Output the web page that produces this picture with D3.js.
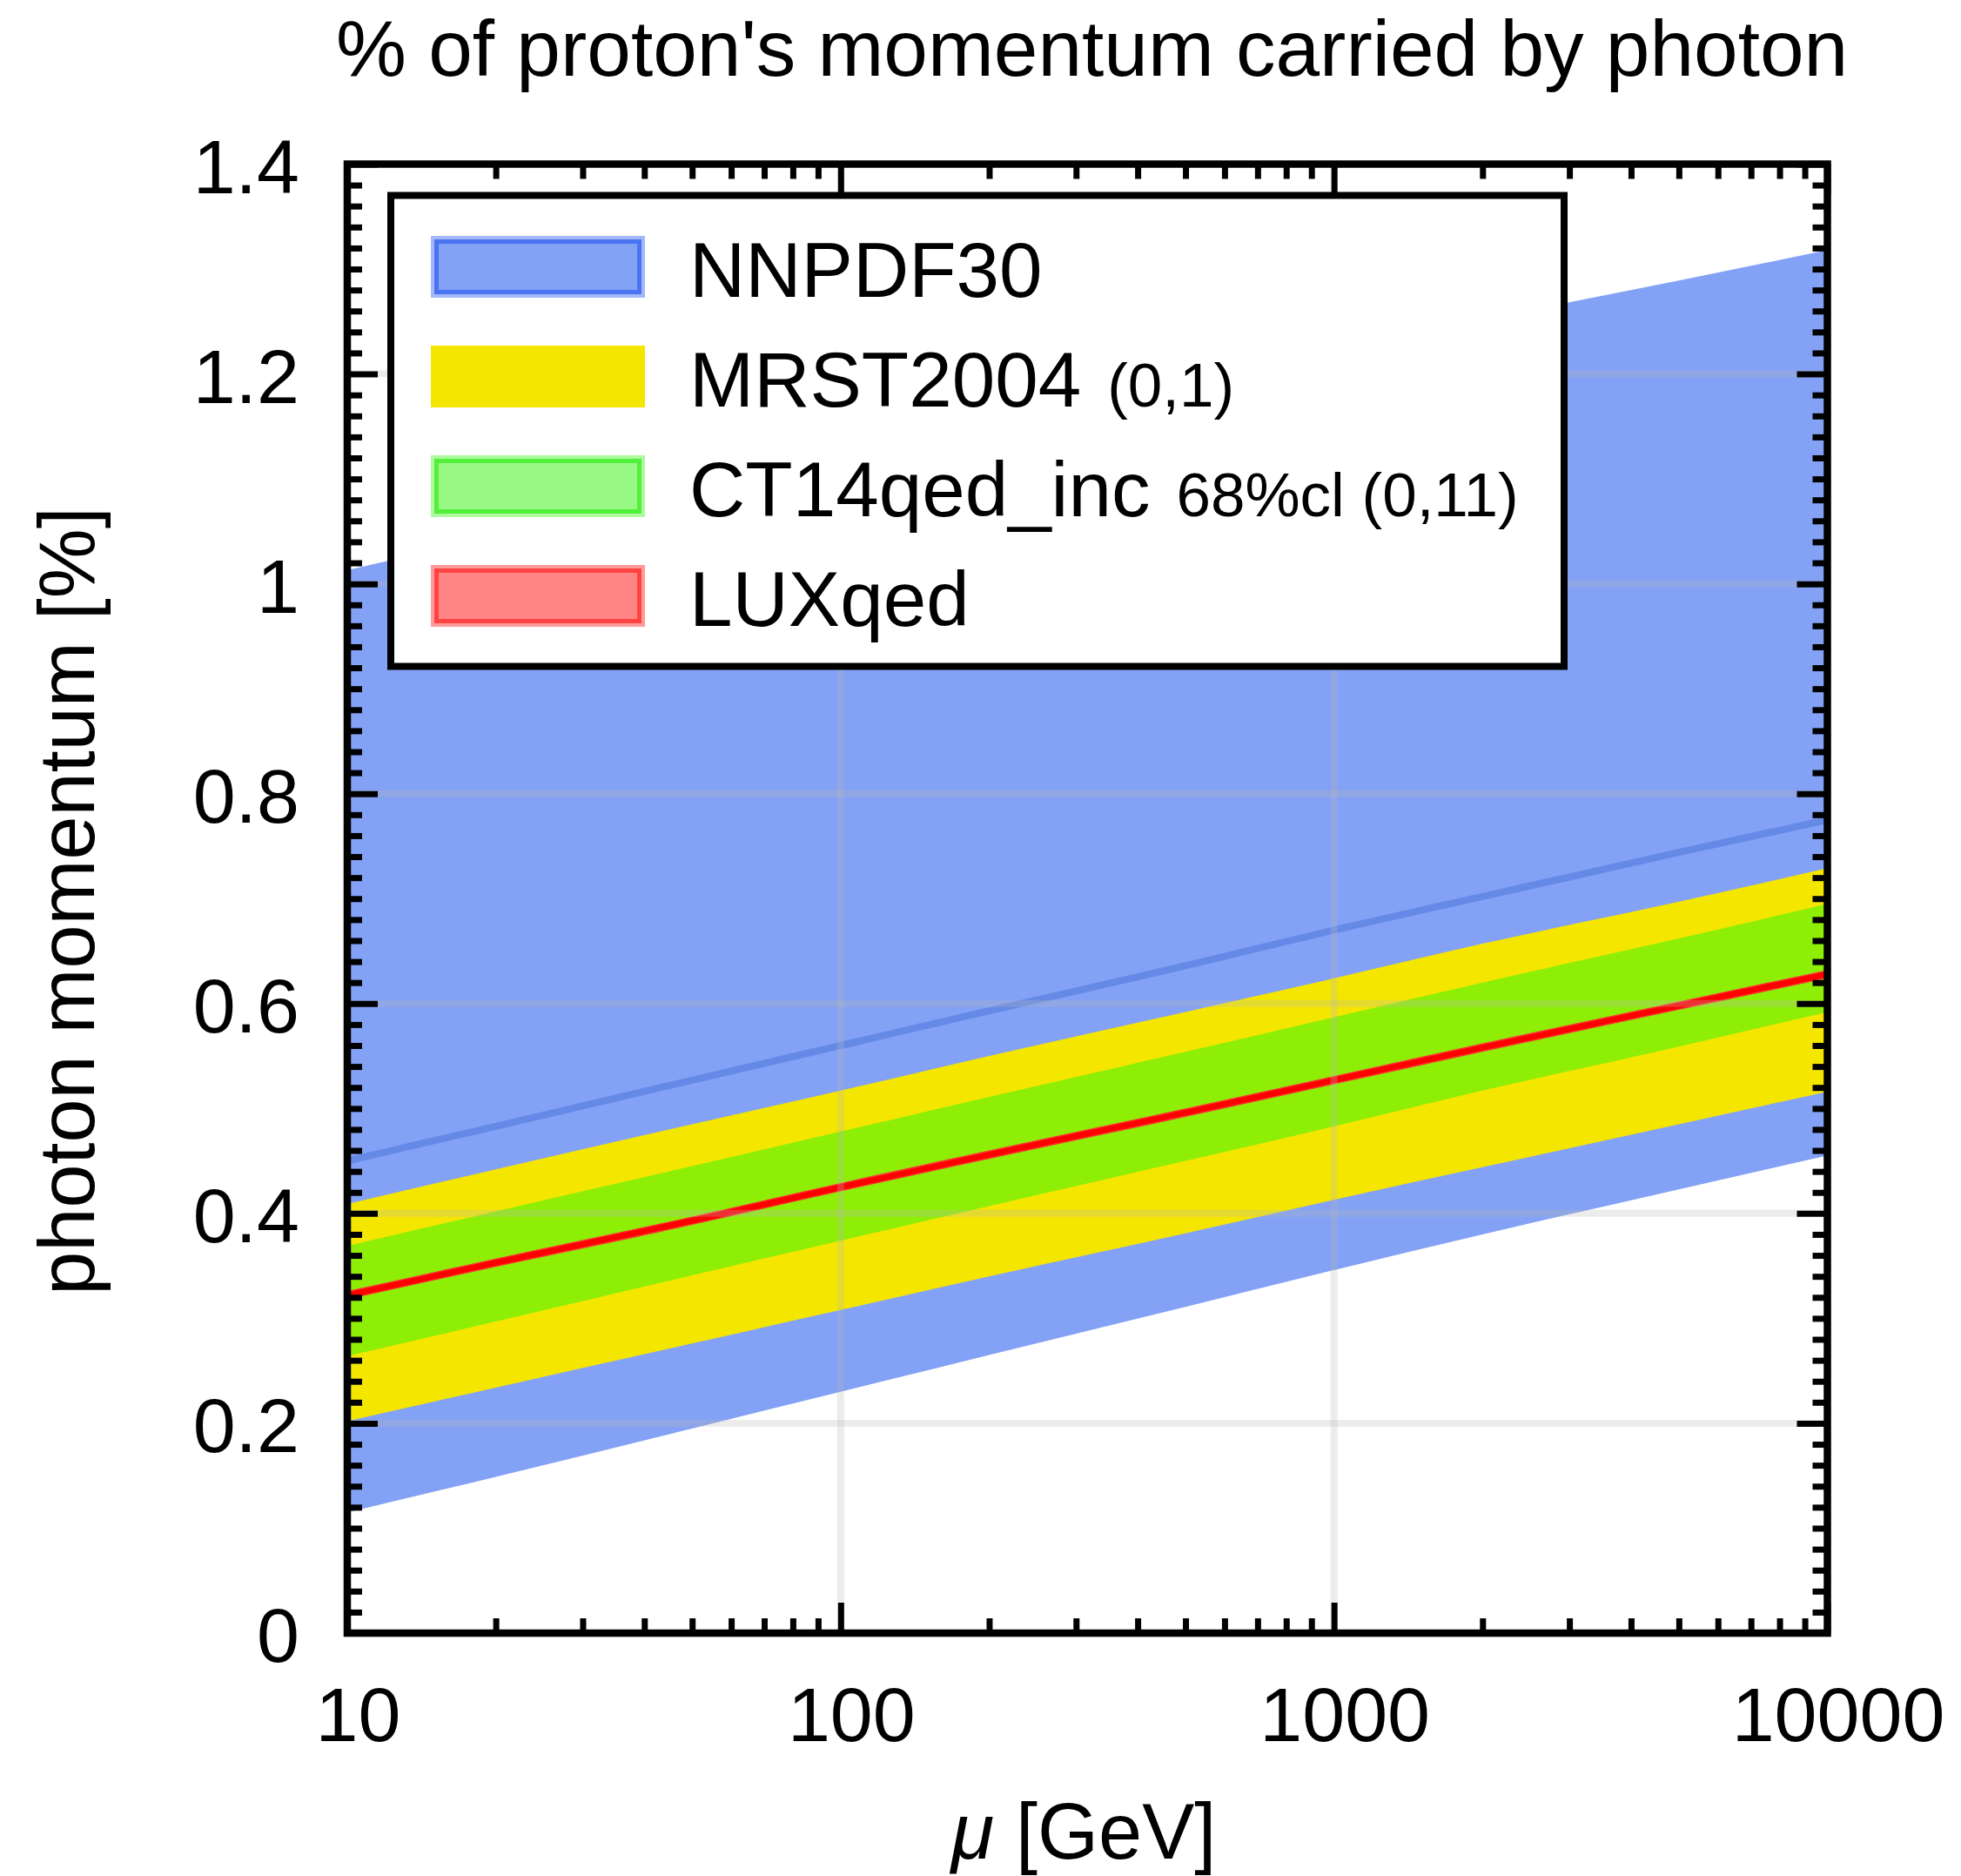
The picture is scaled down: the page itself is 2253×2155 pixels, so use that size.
<!DOCTYPE html>
<html>
<head>
<meta charset="utf-8">
<script src="https://cdn.jsdelivr.net/npm/d3@7"></script>
<style>
  body { margin: 0; background: #fff; }
  svg { display: block; font-family: "Liberation Sans", Arial, Helvetica, sans-serif; }
</style>
</head>
<body>
<svg width="2253" height="2155"></svg>
<script>
// scale values mu [GeV]
var mu = [10, 20, 50, 100, 200, 500, 1000, 2000, 5000, 10000];

// photon momentum fraction [%]
var nnpdfLow     = [0.115, 0.149, 0.195, 0.230, 0.265, 0.311, 0.346, 0.380, 0.423, 0.455];
var nnpdfHigh    = [1.013, 1.045, 1.087, 1.119, 1.150, 1.192, 1.224, 1.252, 1.289, 1.318];
var nnpdfCentral = [0.450, 0.483, 0.527, 0.560, 0.593, 0.636, 0.670, 0.702, 0.744, 0.775];
var mrstLow      = [0.202, 0.234, 0.276, 0.308, 0.340, 0.381, 0.413, 0.444, 0.485, 0.516];
var mrstHigh     = [0.409, 0.442, 0.485, 0.517, 0.550, 0.592, 0.624, 0.657, 0.697, 0.729];
var ct14Low      = [0.264, 0.297, 0.341, 0.374, 0.407, 0.450, 0.483, 0.517, 0.559, 0.592];
var ct14High     = [0.369, 0.402, 0.445, 0.478, 0.511, 0.554, 0.587, 0.620, 0.662, 0.695];
var luxLow       = [0.318, 0.349, 0.389, 0.421, 0.452, 0.492, 0.523, 0.554, 0.594, 0.624];
var luxHigh      = [0.326, 0.357, 0.397, 0.429, 0.460, 0.500, 0.531, 0.562, 0.602, 0.632];
var luxCentral   = [0.322, 0.353, 0.393, 0.425, 0.456, 0.496, 0.527, 0.558, 0.598, 0.628];

// axis ticks
var xTicks = [10, 100, 1000, 10000];
var xTickLabels = ["10", "100", "1000", "10000"];
var yTicks = [0, 0.2, 0.4, 0.6, 0.8, 1, 1.2, 1.4];
var yTickLabels = ["0", "0.2", "0.4", "0.6", "0.8", "1", "1.2", "1.4"];

// legend entries
var legendNames = ["NNPDF30", "MRST2004", "CT14qed_inc", "LUXqed"];
var legendNotes = ["", "(0,1)", "68%cl (0,11)", ""];

//frame of the plot (window.top is taken, so prefixed names)
var svg = d3.select("svg"),
    pLeft = 399, pRight = 2099.5, pTop = 188.5, pBottom = 1876;

var x = d3.scaleLog().domain([10, 10000]).range([pLeft, pRight]);
var y = d3.scaleLinear().domain([0, 1.4]).range([pBottom, pTop]);

function rows(lo, hi) {
    return mu.map(function(m, i) { return {mu: m, lo: lo[i], hi: hi[i]}; });
}

var area = d3.area()
    .x(function(d) { return x(d.mu); })
    .y0(function(d) { return y(d.lo); })
    .y1(function(d) { return y(d.hi); })
    .curve(d3.curveMonotoneX);

var line = d3.line()
    .x(function(d) { return x(d.mu); })
    .y(function(d) { return y(d.lo); })
    .curve(d3.curveMonotoneX);

svg.append("clipPath").attr("id", "plot")
    .append("rect")
    .attr("x", pLeft).attr("y", pTop)
    .attr("width", pRight - pLeft).attr("height", pBottom - pTop);

var g = svg.append("g").attr("clip-path", "url(#plot)");

//bands
g.append("path").datum(rows(nnpdfLow, nnpdfHigh)).attr("d", area).style("fill", "#83a1f5");
g.append("path").datum(rows(nnpdfCentral, nnpdfCentral)).attr("d", line)
    .style("fill", "none").style("stroke", "#6589e7").style("stroke-width", 8);
g.append("path").datum(rows(mrstLow, mrstHigh)).attr("d", area).style("fill", "#f5e600");
g.append("path").datum(rows(ct14Low, ct14High)).attr("d", area).style("fill", "#8fee05");
g.append("path").datum(rows(luxLow, luxHigh)).attr("d", area).style("fill", "#ff3030");
g.append("path").datum(rows(luxCentral, luxCentral)).attr("d", line)
    .style("fill", "none").style("stroke", "#ff0000").style("stroke-width", 6.5);

//grid lines, see-through grey on top of the bands
var grid = svg.append("g")
    .style("stroke", "rgb(186,186,186)")
    .style("stroke-opacity", 0.27)
    .style("stroke-width", 8);
grid.selectAll(".gx")
    .data(xTicks.slice(1, -1))
    .enter().append("line")
    .attr("x1", function(d) { return x(d); })
    .attr("x2", function(d) { return x(d); })
    .attr("y1", pTop).attr("y2", pBottom);
grid.selectAll(".gy")
    .data(yTicks.slice(1, -1))
    .enter().append("line")
    .attr("y1", function(d) { return y(d); })
    .attr("y2", function(d) { return y(d); })
    .attr("x1", pLeft).attr("x2", pRight);

//legend
var lg = svg.append("g");
lg.append("rect")
    .attr("x", 449).attr("y", 224.5)
    .attr("width", 1348).attr("height", 541)
    .style("fill", "#fff").style("stroke", "#000").style("stroke-width", 8);

var swatch = [
    {fringe: "#a3b8f8", fill: "#83a1f5", edge: "#4a74f2"},
    {fringe: "#f5e600", fill: "#f5e600", edge: "#f5e600"},
    {fringe: "#aefa9f", fill: "#98f884", edge: "#52f03c"},
    {fringe: "#ff9a9a", fill: "#ff8585", edge: "#ff4343"}
];

legendNames.forEach(function(name, i) {
    var ry = 271 + i * 126;
    lg.append("rect")
        .attr("x", 495).attr("y", ry).attr("width", 246).attr("height", 71)
        .style("fill", swatch[i].fringe);
    lg.append("rect")
        .attr("x", 501.5).attr("y", ry + 6.5).attr("width", 233).attr("height", 58)
        .style("fill", swatch[i].fill)
        .style("stroke", swatch[i].edge).style("stroke-width", 5);
    var t = lg.append("text")
        .attr("x", 792).attr("y", ry + 70)
        .style("font-size", "89px")
        .text(name);
    if (legendNotes[i]) {
        t.append("tspan")
            .attr("dx", 30)
            .style("font-size", "71px")
            .text(legendNotes[i]);
    }
});

//axes: ticks point inwards on all four sides
var xMinor = x.ticks().filter(function(d) { return xTicks.indexOf(d) < 0; });
var yMinor = y.ticks(70).filter(function(d) { return Math.abs(d * 5 - Math.round(d * 5)) > 1e-6; });

function drawAxis(axisFn, pos, scale, major, minor, labels) {
    var maj = svg.append("g")
        .attr("transform", pos)
        .call(axisFn(scale).tickValues(major).tickSize(-35).tickSizeOuter(0)
            .tickFormat(function(d, i) { return labels ? labels[i] : ""; }));
    var mnr = svg.append("g")
        .attr("transform", pos)
        .call(axisFn(scale).tickValues(minor).tickSize(-17).tickSizeOuter(0).tickFormat(""));
    [maj, mnr].forEach(function(a) {
        a.select(".domain").remove();
        a.selectAll(".tick line").style("stroke", "#000").style("stroke-width", 7);
    });
    return maj;
}

var xb = drawAxis(d3.axisBottom, "translate(0," + pBottom + ")", x, xTicks, xMinor, xTickLabels);
drawAxis(d3.axisTop, "translate(0," + pTop + ")", x, xTicks, xMinor, null);
var yl = drawAxis(d3.axisLeft, "translate(" + pLeft + ",0)", y, yTicks, yMinor, yTickLabels);
drawAxis(d3.axisRight, "translate(" + pRight + ",0)", y, yTicks, yMinor, null);

xb.selectAll(".tick text")
    .attr("x", 12).attr("y", 124).attr("dy", null)
    .style("font-size", "88px").style("fill", "#000")
    .style("font-family", "Liberation Sans, Arial, sans-serif");
yl.selectAll(".tick text")
    .attr("x", -55).attr("dy", "0.37em")
    .style("font-size", "88px").style("fill", "#000")
    .style("font-family", "Liberation Sans, Arial, sans-serif");

//frame
svg.append("rect")
    .attr("x", pLeft).attr("y", pTop)
    .attr("width", pRight - pLeft).attr("height", pBottom - pTop)
    .style("fill", "none").style("stroke", "#000").style("stroke-width", 8.5);

//titles
svg.append("text")
    .attr("x", 386).attr("y", 87)
    .style("font-size", "91px")
    .text("% of proton's momentum carried by photon");

var xl = svg.append("text")
    .attr("x", 1245).attr("y", 2135)
    .attr("text-anchor", "middle")
    .style("font-size", "90px");
xl.append("tspan").style("font-style", "italic").text("\u03bc");
xl.append("tspan").text(" [GeV]");

svg.append("text")
    .attr("transform", "translate(108,1035) rotate(-90)")
    .attr("text-anchor", "middle")
    .style("font-size", "90px")
    .text("photon momentum [%]");
</script>
</body>
</html>
